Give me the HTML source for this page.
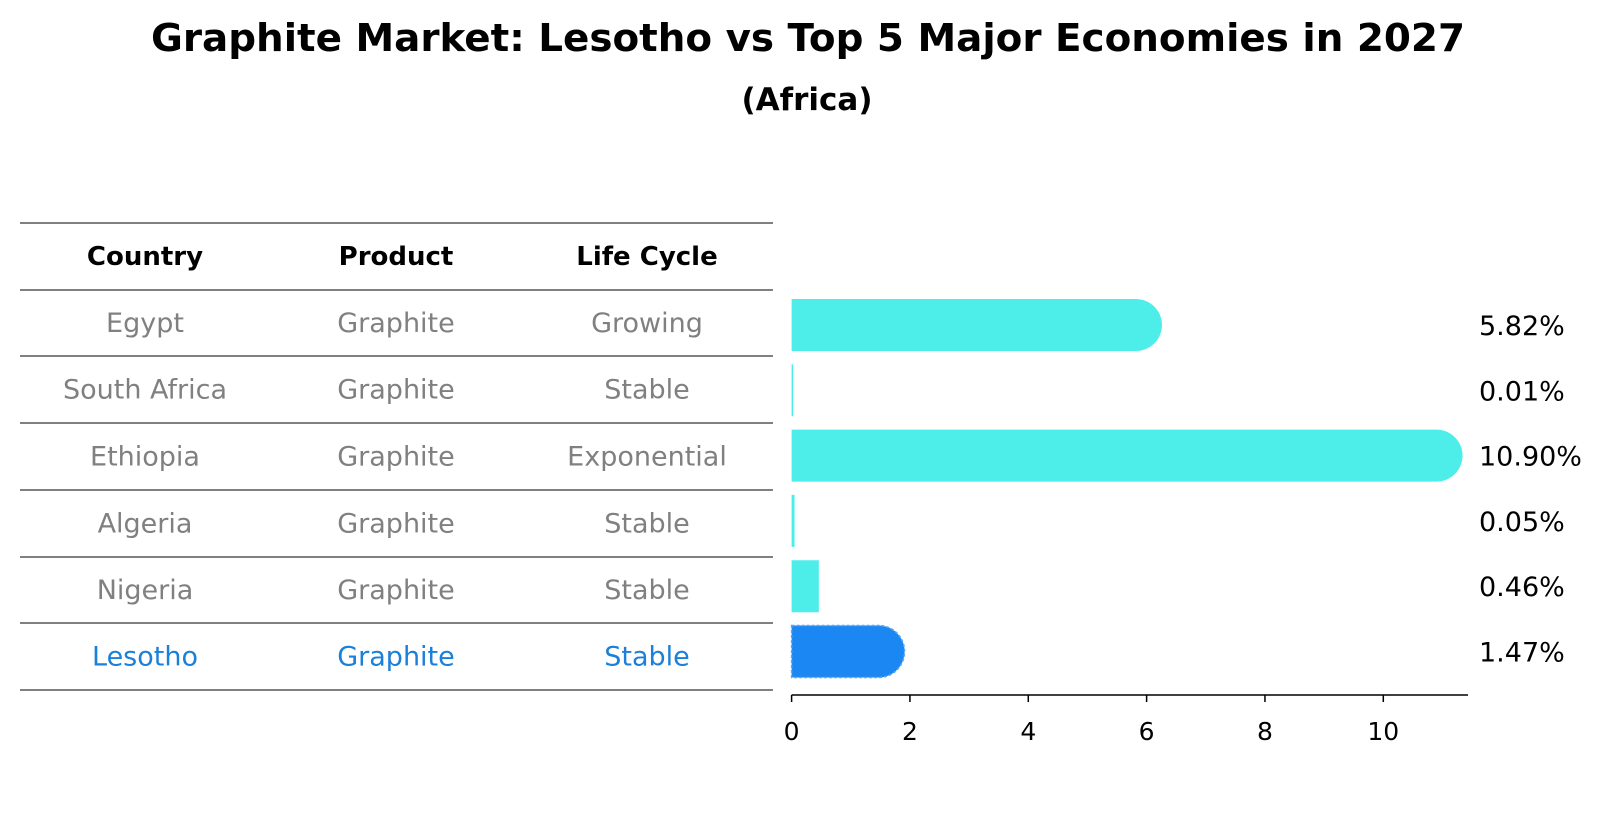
<!DOCTYPE html>
<html><head><meta charset="utf-8"><style>
html,body{margin:0;padding:0;background:#fff;}
svg{display:block;font-family:"DejaVu Sans","Liberation Sans",sans-serif;}
</style></head><body>
<svg id="chart" width="1604" height="823" viewBox="0 0 1604 823">
<text x="808" y="51" text-anchor="middle" font-size="38" font-weight="bold" textLength="1314" lengthAdjust="spacingAndGlyphs">Graphite Market: Lesotho vs Top 5 Major Economies in 2027</text>
<text x="807" y="110" text-anchor="middle" font-size="31" font-weight="bold">(Africa)</text>
<g id="table"></g>
<g id="bars"></g>
</svg>
<script>
const countries = ["Egypt","South Africa","Ethiopia","Algeria","Nigeria","Lesotho"];
const products = ["Graphite","Graphite","Graphite","Graphite","Graphite","Graphite"];
const lifeCycles = ["Growing","Stable","Exponential","Stable","Stable","Stable"];
const shares = [5.82,0.01,10.90,0.05,0.46,1.47];
const valueLabels = ["5.82%","0.01%","10.90%","0.05%","0.46%","1.47%"];
const xTicks = [0,2,4,6,8,10];
const headers = ["Country","Product","Life Cycle"];

const NS = "http://www.w3.org/2000/svg";
function mk(tag, attrs, parent){const e=document.createElementNS(NS,tag);for(const k in attrs)e.setAttribute(k,attrs[k]);parent.appendChild(e);return e;}

// table
const tbl = document.getElementById('table');
const colX = [145,396,647];
const lineYs = [223,290,356,423,490,557,623,690];
lineYs.forEach((y,i)=>{
  const l = mk('line',{x1:20,x2:773,y1:y,y2:y,stroke:'#000','stroke-width':1},tbl);
  
  
});
headers.forEach((h,i)=>{
  const t = mk('text',{x:colX[i],y:265,'text-anchor':'middle','font-size':26,'font-weight':'bold',fill:'#000'},tbl);
  t.textContent=h;
  
  
});
countries.forEach((c,r)=>{
  const cy = (lineYs[r+1]+lineYs[r+2])/2 + 9;
  const col = c==="Lesotho" ? '#1a80d9' : '#808080';
  [c,products[r],lifeCycles[r]].forEach((v,i)=>{
    const t = mk('text',{x:colX[i],y:cy,'text-anchor':'middle','font-size':27,fill:col},tbl);
    t.textContent=v;
    
    
  });
});

// bars
const g = document.getElementById('bars');
const x0 = 791.6, pxPerUnit = 59.17;
const xs = v => x0 + v*pxPerUnit;
const rowY0 = 325, rowStep = 65.3, barH = 52;
const ys = i => rowY0 + i*rowStep;
shares.forEach((v,i)=>{
  const cy = ys(i), top = cy-barH/2, xe = xs(v), r = barH/2;
  const isHi = countries[i]==="Lesotho";
  const fill = isHi ? '#1a87f2' : '#4deeea';
  let d;
  if (v > 1) d = `M${x0},${top} L${xe},${top} A${r},${r} 0 0 1 ${xe},${top+barH} L${x0},${top+barH} Z`;
  else d = `M${x0},${top} L${Math.max(xe,x0+1.5)},${top} L${Math.max(xe,x0+1.5)},${top+barH} L${x0},${top+barH} Z`;
  const attrs = {d:d,fill:fill};
  if (isHi){attrs.stroke='#5aa8f5';attrs['stroke-width']=1.5;attrs['stroke-dasharray']='3 2';}
  const p = mk('path',attrs,g);
  
  
  const t = mk('text',{x:1479,y:cy+10,'font-size':27,fill:'#000'},g);
  t.textContent = valueLabels[i];
  
  
});
const ax = mk('line',{x1:x0,x2:1468,y1:695,y2:695,stroke:'#000','stroke-width':1.5},g);


xTicks.forEach(v=>{
  const tk = mk('line',{x1:xs(v),x2:xs(v),y1:695,y2:702,stroke:'#000','stroke-width':1.5},g);
  
  
  const t = mk('text',{x:xs(v),y:740,'text-anchor':'middle','font-size':25,fill:'#000'},g);
  t.textContent = String(v);
  
  
});
</script>
</body></html>
